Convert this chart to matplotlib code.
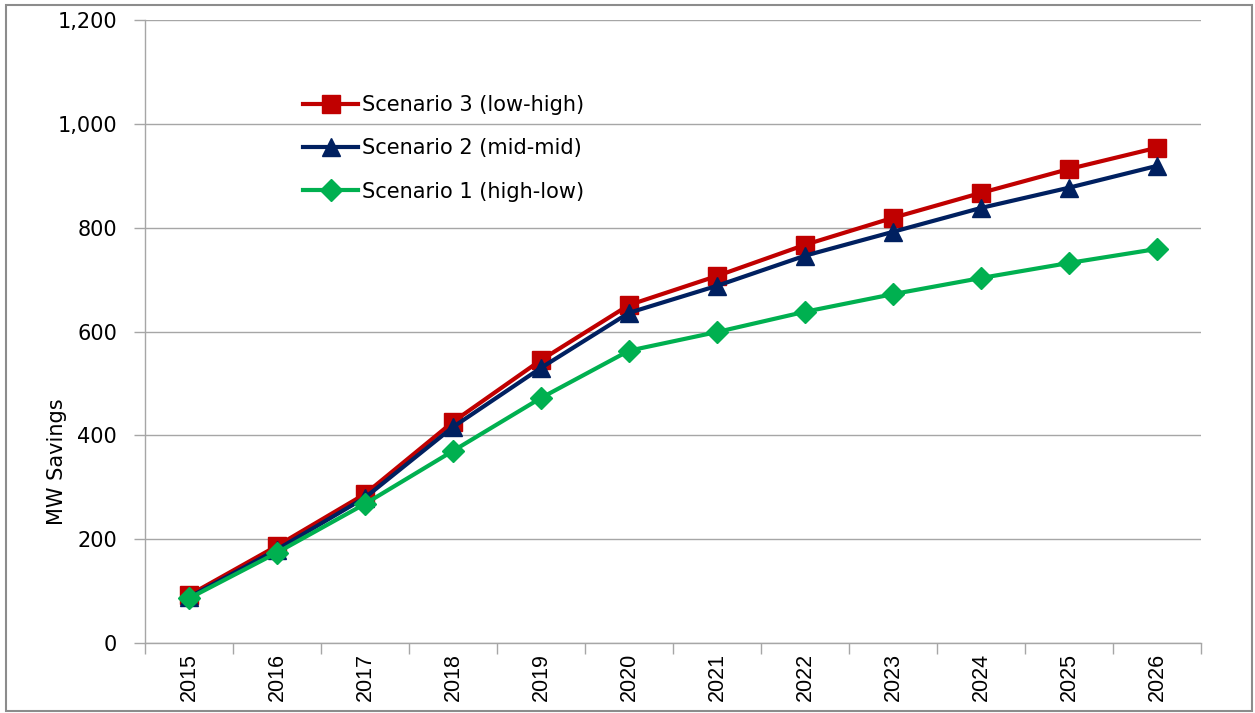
import matplotlib
matplotlib.use("Agg")
import matplotlib.pyplot as plt
from matplotlib.patches import Rectangle
import numpy as np

years = ["2015", "2016", "2017", "2018", "2019", "2020", "2021", "2022", "2023", "2024", "2025", "2026"]
scenario3 = [92, 187, 287, 426, 545, 651, 707, 767, 819, 867, 913, 954]
scenario2 = [88, 180, 280, 416, 530, 636, 688, 746, 792, 838, 877, 919]
scenario1 = [86, 174, 268, 370, 472, 563, 599, 638, 672, 703, 732, 759]
labels = ["Scenario 3 (low-high)", "Scenario 2 (mid-mid)", "Scenario 1 (high-low)"]
yticks = [0, 200, 400, 600, 800, 1000, 1200]

W, H = 1255, 713
fig = plt.figure(figsize=(W / 100, H / 100), dpi=100)
fig.patches.append(Rectangle((6 / W, 2 / H), 1246 / W, 706 / H, transform=fig.transFigure,
                             fill=False, edgecolor="#8C8C8C", linewidth=1.5))

ax = fig.add_axes([145 / W, (H - 643) / H, (1201 - 145) / W, (643 - 20) / H])
x = np.arange(len(years))

ax.plot(x, scenario3, color="#C00000", lw=3, marker="s", ms=13, label=labels[0], zorder=3)
ax.plot(x, scenario2, color="#002060", lw=3, marker="^", ms=13, label=labels[1], zorder=4)
ax.plot(x, scenario1, color="#00B050", lw=3, marker="D", ms=11, label=labels[2], zorder=5)

ax.set_xlim(-0.5, len(years) - 0.5)
ax.set_ylim(0, 1200)
ax.set_yticks(yticks)
ax.set_yticklabels([f"{v:,}" for v in yticks], fontsize=15, family="DejaVu Sans")
ax.set_xticks(x)
ax.set_xticklabels(years, rotation=90, fontsize=15.5, family="Liberation Sans")
ax.set_xticks(np.arange(-0.5, len(years)), minor=True)
ax.tick_params(axis="x", which="major", length=0, pad=7)
ax.tick_params(axis="x", which="minor", length=8, color="#A6A6A6", width=1.0)
ax.tick_params(axis="y", length=8, color="#A6A6A6", width=1.0, pad=12)

ax.yaxis.grid(True, color="#A6A6A6", lw=1.0)
ax.set_axisbelow(True)
for s in ["top", "right"]:
    ax.spines[s].set_visible(False)
for s in ["left", "bottom"]:
    ax.spines[s].set_color("#A6A6A6")
    ax.spines[s].set_linewidth(1.0)

fig.text(57 / W, 1 - 462 / H, "MW Savings", rotation=90, ha="center", va="center",
         fontsize=15, family="DejaVu Sans")

leg = ax.legend(loc="upper left", bbox_to_anchor=((303 - 145) / (1201 - 145), 1 - (95 - 20) / (643 - 20)),
                frameon=False, fontsize=15, handlelength=2.65, handletextpad=0.2,
                labelspacing=1.12, borderaxespad=0, borderpad=0)

fig.savefig("out.png", dpi=100)
